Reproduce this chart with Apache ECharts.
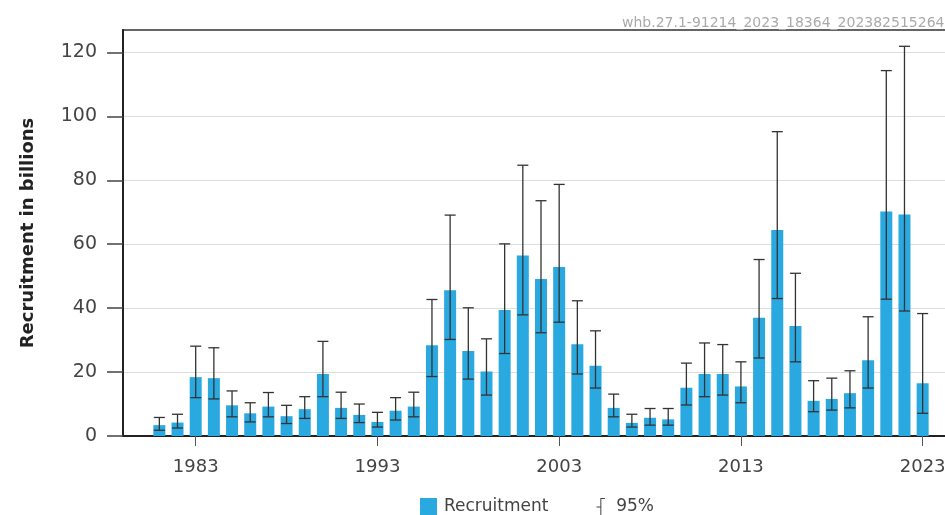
<!DOCTYPE html>
<html>
<head>
<meta charset="utf-8">
<script src="https://cdn.jsdelivr.net/npm/echarts@6/dist/echarts.min.js"></script>
<style>
html,body{margin:0;padding:0;background:#fff;overflow:hidden;}
#chart{width:945px;height:515px;}
</style>
</head>
<body>
<div id="chart"></div>
<script>
var years = [1981,1982,1983,1984,1985,1986,1987,1988,1989,1990,
  1991,1992,1993,1994,1995,1996,1997,1998,1999,2000,
  2001,2002,2003,2004,2005,2006,2007,2008,2009,2010,
  2011,2012,2013,2014,2015,2016,2017,2018,2019,2020,
  2021,2022,2023];
var recruitment = [3.4,4.2,18.4,18.1,9.6,7.1,9.2,6.2,8.4,19.4,
  8.8,6.6,4.4,7.9,9.2,28.4,45.6,26.6,20.2,39.4,
  56.5,49.1,52.9,28.7,22.0,8.8,4.1,5.7,5.2,15.1,
  19.4,19.4,15.5,37.0,64.4,34.4,11.0,11.6,13.4,23.7,
  70.2,69.3,16.5];
var ciHigh = [5.8,6.8,28.1,27.6,14.1,10.4,13.6,9.6,12.3,29.6,
  13.7,10.0,7.4,12.0,13.7,42.7,69.1,40.1,30.4,60.1,
  84.7,73.6,78.7,42.3,32.9,13.1,6.8,8.6,8.6,22.8,
  29.1,28.6,23.2,55.2,95.2,50.9,17.3,18.1,20.4,37.3,
  114.3,121.9,38.3];
var ciLow = [1.8,2.5,12.0,11.6,6.0,4.4,6.0,3.9,5.5,12.3,
  5.5,4.2,2.8,5.0,6.0,18.6,30.2,17.8,12.8,25.8,
  37.9,32.3,35.6,19.4,15.0,6.0,2.8,3.4,3.4,9.7,
  12.3,12.8,10.4,24.4,43.0,23.2,7.6,8.1,8.8,15.0,
  42.8,39.1,7.1];
var xTickYears = [1983,1993,2003,2013,2023];
var yTickValues = [0,20,40,60,80,100,120];

var barData = years.map(function(y,i){return [y, recruitment[i]];});
var ciData = years.map(function(y,i){return [y, ciLow[i], ciHigh[i]];});

var chart = echarts.init(document.getElementById('chart'), null, {renderer:'canvas'});
var lineStyle = {stroke:'#333', lineWidth:1.3};
chart.setOption({
  animation:false,
  backgroundColor:'#fff',
  textStyle:{fontFamily:'DejaVu Sans'},
  title:{
    text:'whb.27.1-91214_2023_18364_2023825152644',
    left:617, top:11,
    textStyle:{fontSize:14, fontWeight:'normal', color:'#aaa', fontFamily:'DejaVu Sans'}
  },
  grid:{left:123, width:836, top:30, bottom:79, outerBoundsMode:'none', containLabel:false,
    show:true, borderColor:'#333', borderWidth:1.5, backgroundColor:'transparent'},
  legend:{
    left:415, top:493,
    itemWidth:17, itemHeight:17, itemGap:48,
    textStyle:{fontSize:17, color:'#444', fontFamily:'DejaVu Sans', padding:[0,0,0,2]},
    data:[
      {name:'Recruitment', icon:'rect'},
      {name:'95%', icon:'path://M9,0h5v1.2h-5z M8,0h1.3v22h-1.3z M3,11h5v1.2h-5z'}
    ]
  },
  xAxis:{
    type:'value', min:1979, max:2025,
    axisLine:{onZero:false, lineStyle:{color:'#222', width:2}},
    axisTick:{show:true, customValues:xTickYears, length:10, lineStyle:{color:'#555', width:1}},
    axisLabel:{customValues:xTickYears, fontSize:18, color:'#444', margin:22, fontFamily:'DejaVu Sans',
      formatter:function(v){return String(v);}},
    splitLine:{show:false}
  },
  yAxis:{
    type:'value', min:0, max:127,
    name:'Recruitment in billions', nameLocation:'middle', nameGap:86,
    nameTextStyle:{fontSize:18, fontWeight:'bold', color:'#222', fontFamily:'DejaVu Sans'},
    axisLine:{show:true, lineStyle:{color:'#222', width:2}},
    axisTick:{show:true, customValues:yTickValues, length:16, lineStyle:{color:'#444', width:1.5}},
    axisLabel:{customValues:yTickValues, fontSize:19, color:'#444', margin:26, fontFamily:'DejaVu Sans'},
    splitLine:{show:true, lineStyle:{color:'#ddd', width:1}}
  },
  series:[
    {
      name:'Recruitment', type:'bar', data:barData, barWidth:12,
      itemStyle:{color:'#2aa9e0'}, z:2
    },
    {
      name:'95%', type:'custom', data:ciData, z:3,
      itemStyle:{color:'#444'},
      encode:{x:0, y:[1,2]},
      renderItem:function(params, api){
        var x = api.value(0);
        var lo = api.coord([x, api.value(1)]);
        var hi = api.coord([x, api.value(2)]);
        var hw = 5.5;
        return {
          type:'group',
          children:[
            {type:'line', shape:{x1:lo[0], y1:lo[1], x2:hi[0], y2:hi[1]}, style:lineStyle},
            {type:'line', shape:{x1:hi[0]-hw, y1:hi[1], x2:hi[0]+hw, y2:hi[1]}, style:lineStyle},
            {type:'line', shape:{x1:lo[0]-hw, y1:lo[1], x2:lo[0]+hw, y2:lo[1]}, style:lineStyle}
          ]
        };
      }
    }
  ]
});
</script>
</body>
</html>
